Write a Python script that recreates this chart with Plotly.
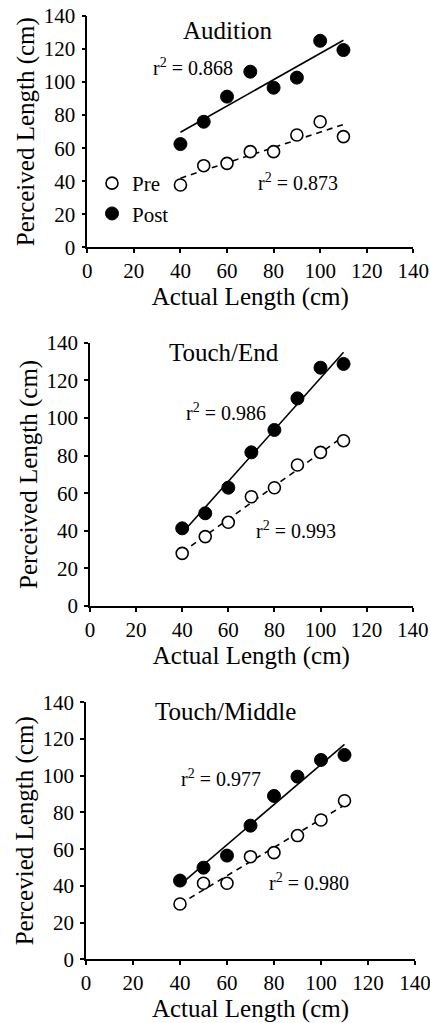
import numpy as np
import plotly.graph_objects as go

# ---- data ----
actual = [40, 50, 60, 70, 80, 90, 100, 110]

audition_pre = [37.7, 49.4, 50.8, 57.9, 57.9, 68.0, 76.0, 67.0]
audition_post = [62.5, 76.0, 91.2, 106.3, 96.6, 102.7, 125.0, 119.4]

touch_end_pre = [28.0, 36.9, 44.5, 58.1, 62.9, 75.0, 81.7, 87.9]
touch_end_post = [41.3, 49.3, 62.9, 81.7, 93.6, 110.4, 126.7, 128.7]

touch_mid_pre = [30.1, 41.4, 41.4, 55.9, 58.1, 67.4, 75.9, 86.4]
touch_mid_post = [42.9, 49.9, 56.5, 72.8, 89.0, 99.5, 108.6, 111.3]

panel_titles = ["Audition", "Touch/End", "Touch/Middle"]
y_titles = ["Perceived Length (cm)", "Perceived Length (cm)", "Percevied Length (cm)"]
x_title = "Actual Length (cm)"
r2_post = ["0.868", "0.986", "0.977"]
r2_pre = ["0.873", "0.993", "0.980"]
tick_vals = [0, 20, 40, 60, 80, 100, 120, 140]

# ---- layout geometry (pixels) ----
W, H = 430, 1023
FONT = "Liberation Serif"
panels_px = [  # (x0, x1, ytop, ybottom)
    (87.3, 413.3, 16.0, 247.3),
    (90.0, 412.7, 342.7, 606.0),
    (86.0, 415.0, 702.3, 959.3),
]
title_pos = [(60.4, 131.5), (58.1, 134.6), (59.2, 134.9)]
r2_post_pos = [(45.4, 109.3), (59.0, 103.3), (57.4, 98.6)]
r2_pre_pos = [(90.4, 39.7), (89.4, 40.4), (94.9, 42.3)]

series = [
    (audition_pre, audition_post),
    (touch_end_pre, touch_end_post),
    (touch_mid_pre, touch_mid_post),
]

fig = go.Figure()
annotations = []
x_arr = np.array(actual, dtype=float)

for i, (pre, post) in enumerate(series):
    xa = "x" if i == 0 else f"x{i+1}"
    ya = "y" if i == 0 else f"y{i+1}"
    xs = [float(x_arr.min()), float(x_arr.max())]
    # regression lines
    for vals, dash in ((post, "solid"), (pre, "dash")):
        m, b = np.polyfit(x_arr, np.array(vals), 1)
        fig.add_trace(go.Scatter(
            x=xs, y=[m * xs[0] + b, m * xs[1] + b], mode="lines",
            line=dict(color="black", width=1.6, dash="6px,5px" if dash == "dash" else "solid"),
            xaxis=xa, yaxis=ya, showlegend=False, hoverinfo="skip"))
    fig.add_trace(go.Scatter(
        x=actual, y=pre, mode="markers", name="Pre",
        marker=dict(symbol="circle", size=12, color="white",
                    line=dict(color="black", width=1.6)),
        xaxis=xa, yaxis=ya, showlegend=(i == 0)))
    fig.add_trace(go.Scatter(
        x=actual, y=post, mode="markers", name="Post",
        marker=dict(symbol="circle", size=13, color="black",
                    line=dict(color="black", width=1)),
        xaxis=xa, yaxis=ya, showlegend=(i == 0)))

    x0, x1, yt, yb = panels_px[i]
    axis_common = dict(
        range=[0, 140], tickvals=tick_vals, showgrid=False, zeroline=False,
        showline=True, linecolor="black", linewidth=1.6,
        ticks="outside", ticklen=4, tickwidth=1.5, tickcolor="black",
        tickfont=dict(family=FONT, size=21, color="black"),
        automargin=False, ticklabeloverflow="allow",
    )
    fig.layout[f"xaxis{'' if i == 0 else i+1}"] = dict(
        axis_common, domain=[x0 / W, x1 / W], anchor=ya, ticklabelstandoff=0,
        title=dict(text=x_title, font=dict(family=FONT, size=25, color="black"), standoff=0))
    fig.layout[f"yaxis{'' if i == 0 else i+1}"] = dict(
        axis_common, domain=[1 - yb / H, 1 - yt / H], anchor=xa, ticklabelstandoff=2,
        title=dict(text=y_titles[i], font=dict(family=FONT, size=25, color="black"), standoff=2))

    annotations.append(dict(
        x=title_pos[i][0], y=title_pos[i][1], xref=xa, yref=ya, text=panel_titles[i],
        showarrow=False, font=dict(family=FONT, size=25, color="black")))
    annotations.append(dict(
        x=r2_post_pos[i][0], y=r2_post_pos[i][1], xref=xa, yref=ya,
        text=f"r<sup>2</sup> = {r2_post[i]}",
        showarrow=False, font=dict(family=FONT, size=20, color="black")))
    annotations.append(dict(
        x=r2_pre_pos[i][0], y=r2_pre_pos[i][1], xref=xa, yref=ya,
        text=f"r<sup>2</sup> = {r2_pre[i]}",
        showarrow=False, font=dict(family=FONT, size=20, color="black")))

fig.update_layout(
    width=W, height=H,
    margin=dict(l=0, r=0, t=0, b=0),
    paper_bgcolor="white", plot_bgcolor="white",
    annotations=annotations,
    showlegend=True,
    legend=dict(
        x=92 / W, xanchor="left", y=1 - 163 / H, yanchor="top",
        bgcolor="rgba(0,0,0,0)", borderwidth=0,
        font=dict(family=FONT, size=21, color="black"),
        itemwidth=30, tracegroupgap=0,
    ),
)

fig.write_html("out.html", config={"displayModeBar": False},
               post_script="document.body.style.margin='0';")
